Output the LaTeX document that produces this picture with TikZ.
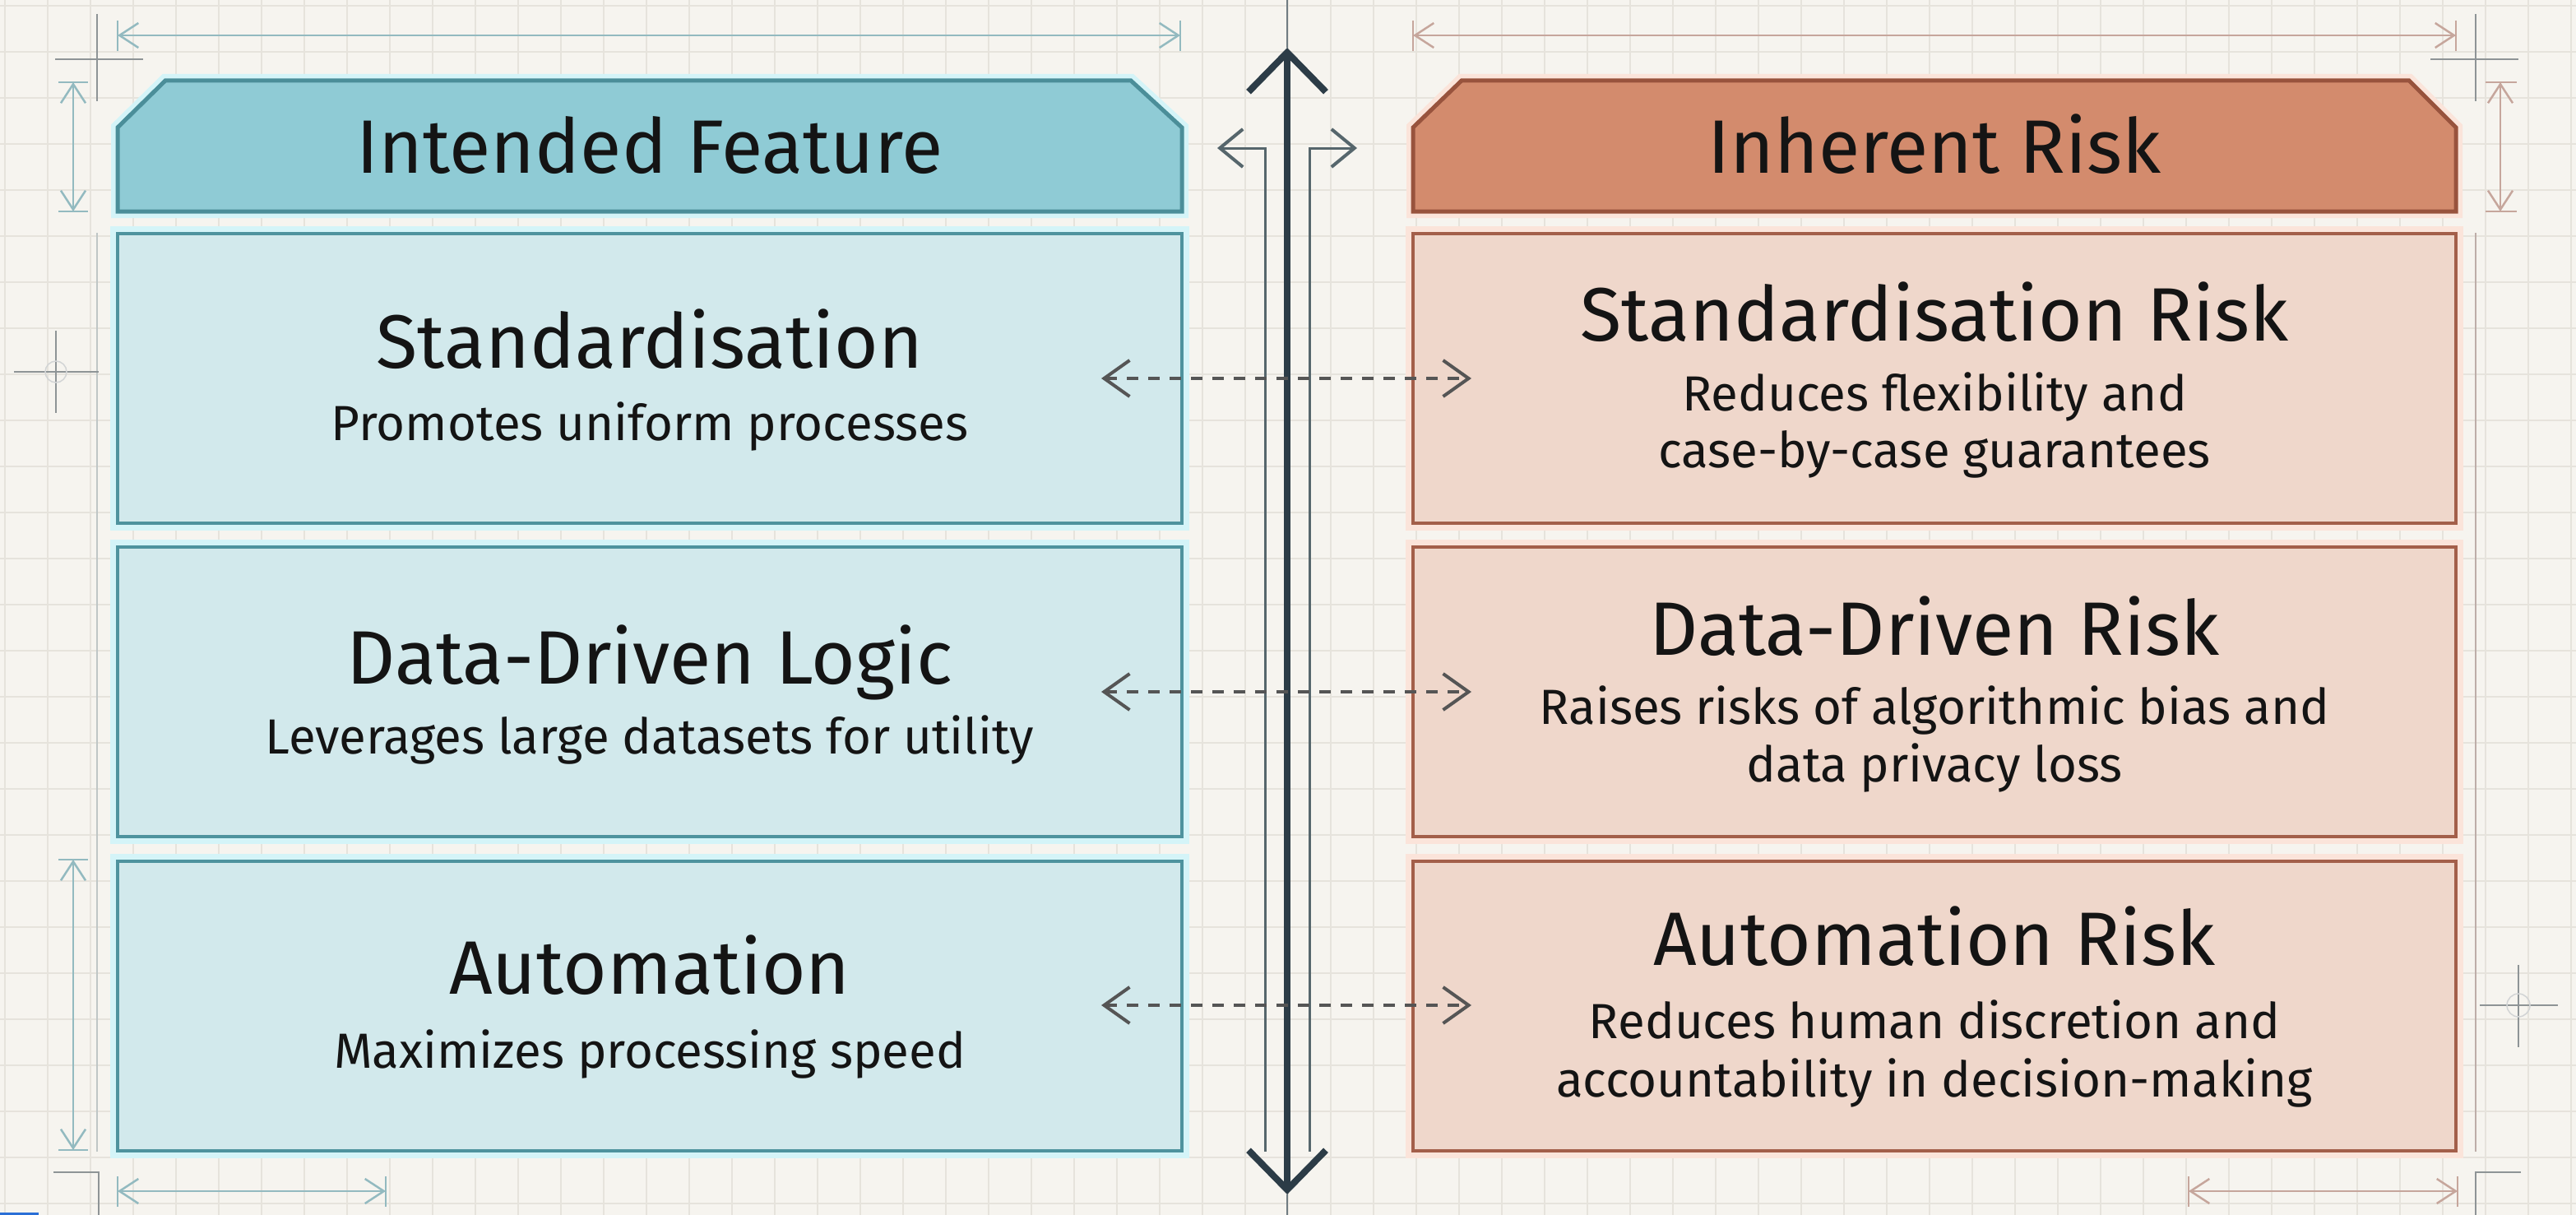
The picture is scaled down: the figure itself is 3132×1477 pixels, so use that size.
\documentclass[tikz,border=0pt]{standalone}
\usepackage{fontspec}
\setmainfont{Fira Sans}
\usetikzlibrary{arrows.meta}
\definecolor{bg}{HTML}{F6F4EF}
\definecolor{gridc}{HTML}{E6E3DC}
\definecolor{lfill}{HTML}{D2E9EC}
\definecolor{lbord}{HTML}{4E939E}
\definecolor{lhalo}{HTML}{D4F4F8}
\definecolor{lhfill}{HTML}{8FCBD5}
\definecolor{lhbord}{HTML}{4B8E99}
\definecolor{rfill}{HTML}{EFD7CB}
\definecolor{rbord}{HTML}{A35F4A}
\definecolor{rhalo}{HTML}{FBE4DA}
\definecolor{rhfill}{HTML}{D38B6D}
\definecolor{rhbord}{HTML}{98533D}
\definecolor{txt}{HTML}{141414}
\definecolor{dimL}{HTML}{93BAC0}
\definecolor{dimR}{HTML}{C6A69C}
\definecolor{cross}{HTML}{8E9496}
\definecolor{longL}{HTML}{BFC6C6}
\definecolor{longR}{HTML}{BDADA8}
\definecolor{axis}{HTML}{2C3C47}
\definecolor{axisthin}{HTML}{707C82}
\definecolor{dbl}{HTML}{56666C}
\definecolor{dashc}{HTML}{555555}
\definecolor{bluebar}{HTML}{2A6FD6}
\begin{document}
\begin{tikzpicture}[x=1pt,y=-1pt,
  lbox/.style={draw=lbord, fill=lfill, line width=4pt, preaction={draw=lhalo, line width=18pt}, minimum width=1294pt, minimum height=352pt, inner sep=0pt},
  rbox/.style={draw=rbord, fill=rfill, line width=4pt, preaction={draw=rhalo, line width=18pt}, minimum width=1268pt, minimum height=352pt, inner sep=0pt},
  lhead/.style={draw=lhbord, fill=lhfill, line width=5pt, line join=miter, preaction={draw=lhalo, line width=16pt}},
  rhead/.style={draw=rhbord, fill=rhfill, line width=5pt, line join=miter, preaction={draw=rhalo, line width=16pt}},
  ttl/.style={anchor=base, inner sep=0pt, text=txt, font=\fontsize{92}{110}\selectfont},
  sub/.style={anchor=base, inner sep=0pt, text=txt, font=\fontsize{60}{72}\selectfont},
  dimline/.style={line width=2.5pt, {Straight Barb[length=23pt,width=30pt]}-{Straight Barb[length=23pt,width=30pt]}},
  tick/.style={line width=2.5pt},
  crossl/.style={draw=cross, line width=2.5pt},
  dashar/.style={dashc, line width=3.5pt, dash pattern=on 14pt off 12pt, {Straight Barb[length=31pt,width=44pt,line width=4pt]}-{Straight Barb[length=31pt,width=44pt,line width=4pt]}},
  dblline/.style={dbl, line width=3pt, -{Straight Barb[length=28pt,width=46pt,line width=4pt]}}
]
\useasboundingbox (0,0) rectangle (3132,1477);
\fill[bg] (0,0) rectangle (3132,1477);
\foreach \i in {0,...,60} \draw[gridc, line width=1.5pt] ({6+52*\i},0) -- ({6+52*\i},1477);
\foreach \j in {0,...,26} \draw[gridc, line width=1.5pt] (0,{7+56*\j}) -- (3132,{7+56*\j});

% ---- dimension lines, left
\draw[dimL, dimline] (143,43) coordinate (tl1) -- (1435,43) coordinate (tl2);
\draw[dimL, tick] (143,25) -- (143,62);
\draw[dimL, tick] (1435,25) -- (1435,62);
\draw[dimL, dimline] (89,100) coordinate (vl1) -- (89,257) coordinate (vl2);
\draw[dimL, tick] (71,100) -- (107,100);
\draw[dimL, tick] (71,257) -- (107,257);
\draw[dimL, dimline] (89,1045) coordinate (vl3) -- (89,1398) coordinate (vl4);
\draw[dimL, tick] (71,1045) -- (107,1045);
\draw[dimL, tick] (71,1398) -- (107,1398);
\draw[dimL, dimline] (143,1448) coordinate (bl1) -- (469,1448) coordinate (bl2);
\draw[dimL, tick] (143,1430) -- (143,1467);
\draw[dimL, tick] (469,1430) -- (469,1467);
% ---- dimension lines, right
\draw[dimR, dimline] (1718,43) coordinate (tr1) -- (2986,43) coordinate (tr2);
\draw[dimR, tick] (1718,25) -- (1718,62);
\draw[dimR, tick] (2986,25) -- (2986,62);
\draw[dimR, dimline] (3040,100) coordinate (vr1) -- (3040,257) coordinate (vr2);
\draw[dimR, tick] (3022,100) -- (3060,100);
\draw[dimR, tick] (3022,257) -- (3060,257);
\draw[dimR, dimline] (2661,1448) coordinate (br1) -- (2988,1448) coordinate (br2);
\draw[dimR, tick] (2661,1430) -- (2661,1467);
\draw[dimR, tick] (2988,1430) -- (2988,1467);

% ---- long side lines and corner marks
\draw[longL, line width=2.5pt] (118,283) -- (118,1400);
\draw[longR, line width=2.5pt] (3010,283) -- (3010,1400);
\draw[crossl] (118,17) -- (118,123);
\draw[crossl] (67,72) -- (174,72);
\draw[crossl] (3010,17) -- (3010,123);
\draw[crossl] (2955,72) -- (3062,72);
\draw[crossl] (68,402) -- (68,502);
\draw[crossl] (17,452) -- (120,452);
\draw[cross!40, line width=1.5pt] (68,452) circle[radius=13pt];
\draw[crossl] (3062,1173) -- (3062,1273);
\draw[crossl] (3015,1222) -- (3110,1222);
\draw[cross!40, line width=1.5pt] (3062,1222) circle[radius=14pt];
\draw[crossl, line cap=butt] (65,1425) -- (120,1425) -- (120,1477);
\draw[crossl, line cap=butt] (3065,1425) -- (3010,1425) -- (3010,1477);
\fill[bluebar] (0,1474) rectangle (47,1477);

% ---- headers
\draw[lhead] (143,257) -- (143,155) -- (201,98) -- (1375,98) -- (1437,155) -- (1437,257) -- cycle;
\draw[rhead] (1718,257) -- (1718,155) -- (1777,98) -- (2929,98) -- (2986,155) -- (2986,257) -- cycle;
\node[ttl] (hL) at (790,210) {Intended Feature};
\node[ttl] (hR) at (2352,210) {Inherent Risk};

% ---- boxes
\node[lbox] (L1) at (790,460) {};
\node[lbox] (L2) at (790,841) {};
\node[lbox] (L3) at (790,1223) {};
\node[rbox] (R1) at (2352,460) {};
\node[rbox] (R2) at (2352,841) {};
\node[rbox] (R3) at (2352,1223) {};

\node[ttl] (L1t) at (790,447) {Standardisation};
\node[sub] (L1s) at (790,535) {Promotes uniform processes};
\node[ttl] (L2t) at (790,831) {Data-Driven Logic};
\node[sub] (L2s) at (790,916) {Leverages large datasets for utility};
\node[ttl] (L3t) at (790,1208) {Automation};
\node[sub] (L3s) at (790,1298) {Maximizes processing speed};

\node[ttl] (R1t) at (2352,414) {Standardisation Risk};
\node[sub] (R1a) at (2352,499) {Reduces flexibility and};
\node[sub] (R1b) at (2352,568) {case-by-case guarantees};
\node[ttl] (R2t) at (2352,796) {Data-Driven Risk};
\node[sub] (R2a) at (2352,880) {Raises risks of algorithmic bias and};
\node[sub] (R2b) at (2352,950) {data privacy loss};
\node[ttl] (R3t) at (2352,1173) {Automation Risk};
\node[sub] (R3a) at (2352,1262) {Reduces human discretion and};
\node[sub] (R3b) at (2352,1333) {accountability in decision-making};

% ---- central axis
\coordinate (ctop) at (1565,58);
\coordinate (cbot) at (1565,1452);
\coordinate (cend1) at (1565,0);
\coordinate (cend2) at (1565,1477);
\draw[axisthin, line width=2pt] (cend1) -- (ctop);
\draw[axisthin, line width=2pt] (cbot) -- (cend2);
\coordinate (dl0) at (1538,1400);
\coordinate (dl1) at (1538,180);
\coordinate (dl2) at (1480,180);
\coordinate (dr0) at (1592,1400);
\coordinate (dr1) at (1592,180);
\coordinate (dr2) at (1650,180);
\draw[dblline] (dl0) -- (dl1) -- (dl2);
\draw[dblline] (dr0) -- (dr1) -- (dr2);
\draw[axis, line width=8pt, {Straight Barb[length=48pt,width=94pt]}-{Straight Barb[length=48pt,width=94pt]}] (cbot) -- (ctop);

% ---- dashed correspondences
\coordinate (a1) at (1339,460); \coordinate (b1) at (1789,460);
\coordinate (a2) at (1339,841); \coordinate (b2) at (1789,841);
\coordinate (a3) at (1339,1222); \coordinate (b3) at (1789,1222);
\draw[dashar] (a1) -- (b1);
\draw[dashar] (a2) -- (b2);
\draw[dashar] (a3) -- (b3);
\end{tikzpicture}
\end{document}
